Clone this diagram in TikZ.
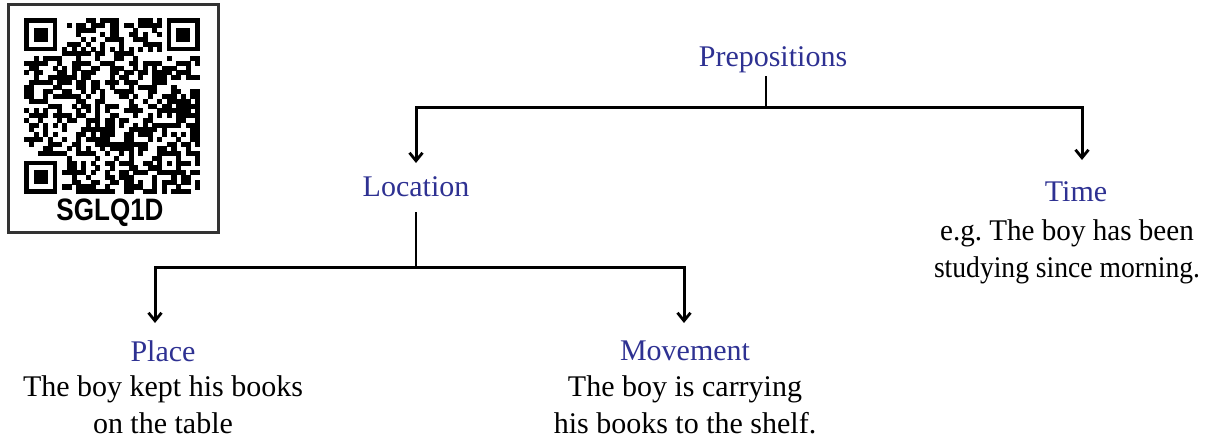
\documentclass[tikz,border=0pt]{standalone}
\usepackage{fontspec}
\setmainfont{Liberation Serif}
\newfontfamily\qrfont{Liberation Sans}
\usetikzlibrary{arrows.meta}
\definecolor{tblue}{RGB}{46,49,146}
\frenchspacing
\begin{document}
\begin{tikzpicture}[x=1pt,y=-1pt,
  lbl/.style={font=\fontsize{30}{37}\selectfont, text=tblue, inner sep=0pt},
  txt/.style={font=\fontsize{30}{37}\selectfont, align=center, inner sep=0pt},
  stem/.style={line width=2.2pt},
  arr/.style={line width=3pt, -{Straight Barb[length=8pt,width=13pt,line width=2.8pt]}},
  qrbox/.style={line width=3pt, draw=black!80}
]
\useasboundingbox (0,0) rectangle (1218,441);

% ---------- QR code ----------
\draw[qrbox] (8,5) rectangle (218,232);
\def\qx{24}\def\qy{18}\def\qm{4.757}\def\qmm{5.05}
\pgfmathsetseed{4321}
\foreach \i in {0,...,36}{
  \foreach \j in {0,...,36}{
    \pgfmathrandominteger{\r}{0}{1}
    \pgfmathtruncatemacro{\skipm}{(((\i<8)&&(\j<8))||((\i>28)&&(\j<8))||((\i<8)&&(\j>28))||((\i>27)&&(\i<33)&&(\j>27)&&(\j<33))||(\i==6)||(\j==6)) ? 1 : 0}
    \ifnum\skipm=0 \ifnum\r=1
      \fill ({\qx+\i*\qm},{\qy+\j*\qm}) rectangle ++(\qmm,\qmm);
    \fi\fi
  }
}
\foreach \a/\b in {0/0,30/0,0/30}{
  \fill ({\qx+\a*\qm},{\qy+\b*\qm}) rectangle ++({7*\qm},{7*\qm});
  \fill[white] ({\qx+(\a+1)*\qm},{\qy+(\b+1)*\qm}) rectangle ++({5*\qm},{5*\qm});
  \fill ({\qx+(\a+2)*\qm},{\qy+(\b+2)*\qm}) rectangle ++({3*\qm},{3*\qm});
}
\fill ({\qx+28*\qm},{\qy+28*\qm}) rectangle ++({5*\qm},{5*\qm});
\fill[white] ({\qx+29*\qm},{\qy+29*\qm}) rectangle ++({3*\qm},{3*\qm});
\fill ({\qx+30*\qm},{\qy+30*\qm}) rectangle ++(\qmm,\qmm);
\foreach \k in {8,10,...,28}{
  \fill ({\qx+\k*\qm},{\qy+6*\qm}) rectangle ++(\qmm,\qmm);
  \fill ({\qx+6*\qm},{\qy+\k*\qm}) rectangle ++(\qmm,\qmm);
}
\node[font=\qrfont\bfseries\fontsize{31}{31}\selectfont, inner sep=0pt] (qrlabel) at (110,213) {\scalebox{0.84}[1]{SGLQ1D}};

% ---------- tree ----------
\node[lbl] (prep) at (773,60) {Prepositions};
\node[lbl] (loc) at (416,187) {Location};
\node[lbl] (time) at (1076,192) {Time};
\node[txt] (timeex) at (1067,252) {\scalebox{0.97}[1]{e.g. The boy has been}\\\scalebox{0.92}[1]{studying since morning.}};
\node[lbl] (place) at (163,351) {Place};
\node[txt] (placeex) at (163,405) {The boy kept his books\\on the table};
\node[lbl] (move) at (685,351) {Movement};
\node[txt] (moveex) at (685,405) {The boy is carrying\\his books to the shelf.};

\coordinate (j1) at (766,108);
\coordinate (tloc) at (416,163);
\coordinate (ttime) at (1082,160);
\coordinate (j2) at (416,267);
\coordinate (tplace) at (155,323);
\coordinate (tmove) at (684,323);

\draw[stem] (prep.south -| j1) ++(0,3) -- (j1);
\draw[arr] (j1) -| (tloc);
\draw[arr] (j1) -| (ttime);
\draw[stem] (loc.south) ++(0,15) -- (j2);
\draw[arr] (j2) -| (tplace);
\draw[arr] (j2) -| (tmove);
\end{tikzpicture}
\end{document}
